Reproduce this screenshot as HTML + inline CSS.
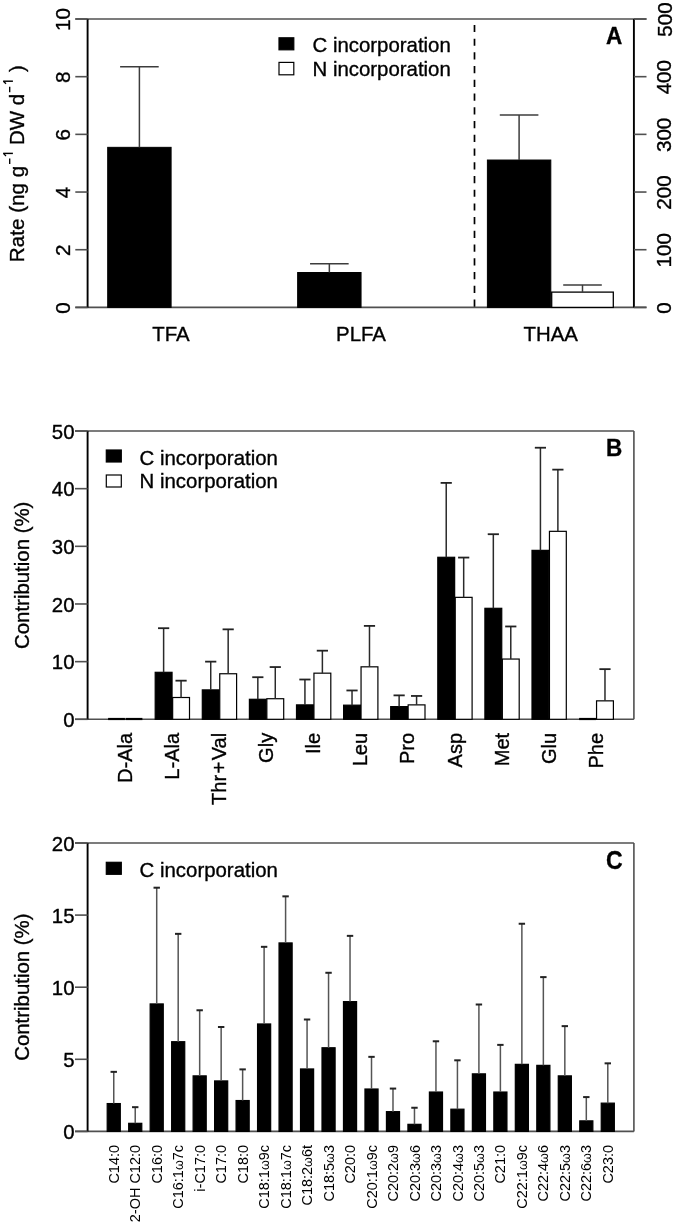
<!DOCTYPE html>
<html><head><meta charset="utf-8"><style>
html,body{margin:0;padding:0;background:#fff;}
svg{display:block;will-change:transform;}
text{font-family:"Liberation Sans", sans-serif;fill:#000;stroke:#000;stroke-width:0.35px;}
</style></head><body>
<svg width="675" height="1224" viewBox="0 0 675 1224">
<rect width="675" height="1224" fill="#fff"/>
<line x1="75.30" y1="19.00" x2="646.50" y2="19.00" stroke="#505050" stroke-width="1.6" />
<line x1="75.30" y1="307.40" x2="646.50" y2="307.40" stroke="#505050" stroke-width="1.6" />
<line x1="87.60" y1="19.00" x2="87.60" y2="307.40" stroke="#000" stroke-width="1.9" />
<line x1="633.90" y1="19.00" x2="633.90" y2="307.40" stroke="#000" stroke-width="1.9" />
<line x1="75.30" y1="307.40" x2="87.60" y2="307.40" stroke="#505050" stroke-width="1.6" />
<text x="70.30" y="307.90" font-size="20.6" text-anchor="middle" font-weight="normal" transform="rotate(-90 70.30 307.90)">0</text>
<line x1="75.30" y1="249.72" x2="87.60" y2="249.72" stroke="#505050" stroke-width="1.6" />
<text x="70.30" y="250.22" font-size="20.6" text-anchor="middle" font-weight="normal" transform="rotate(-90 70.30 250.22)">2</text>
<line x1="75.30" y1="192.04" x2="87.60" y2="192.04" stroke="#505050" stroke-width="1.6" />
<text x="70.30" y="192.54" font-size="20.6" text-anchor="middle" font-weight="normal" transform="rotate(-90 70.30 192.54)">4</text>
<line x1="75.30" y1="134.36" x2="87.60" y2="134.36" stroke="#505050" stroke-width="1.6" />
<text x="70.30" y="134.86" font-size="20.6" text-anchor="middle" font-weight="normal" transform="rotate(-90 70.30 134.86)">6</text>
<line x1="75.30" y1="76.68" x2="87.60" y2="76.68" stroke="#505050" stroke-width="1.6" />
<text x="70.30" y="77.18" font-size="20.6" text-anchor="middle" font-weight="normal" transform="rotate(-90 70.30 77.18)">8</text>
<line x1="75.30" y1="19.00" x2="87.60" y2="19.00" stroke="#505050" stroke-width="1.6" />
<text x="70.30" y="19.50" font-size="20.6" text-anchor="middle" font-weight="normal" transform="rotate(-90 70.30 19.50)">10</text>
<line x1="633.90" y1="307.40" x2="646.50" y2="307.40" stroke="#505050" stroke-width="1.6" />
<text x="671.50" y="307.90" font-size="20.6" text-anchor="middle" font-weight="normal" transform="rotate(-90 671.50 307.90)">0</text>
<line x1="633.90" y1="249.72" x2="646.50" y2="249.72" stroke="#505050" stroke-width="1.6" />
<text x="671.50" y="250.22" font-size="20.6" text-anchor="middle" font-weight="normal" transform="rotate(-90 671.50 250.22)">100</text>
<line x1="633.90" y1="192.04" x2="646.50" y2="192.04" stroke="#505050" stroke-width="1.6" />
<text x="671.50" y="192.54" font-size="20.6" text-anchor="middle" font-weight="normal" transform="rotate(-90 671.50 192.54)">200</text>
<line x1="633.90" y1="134.36" x2="646.50" y2="134.36" stroke="#505050" stroke-width="1.6" />
<text x="671.50" y="134.86" font-size="20.6" text-anchor="middle" font-weight="normal" transform="rotate(-90 671.50 134.86)">300</text>
<line x1="633.90" y1="76.68" x2="646.50" y2="76.68" stroke="#505050" stroke-width="1.6" />
<text x="671.50" y="77.18" font-size="20.6" text-anchor="middle" font-weight="normal" transform="rotate(-90 671.50 77.18)">400</text>
<line x1="633.90" y1="19.00" x2="646.50" y2="19.00" stroke="#505050" stroke-width="1.6" />
<text x="671.50" y="19.50" font-size="20.6" text-anchor="middle" font-weight="normal" transform="rotate(-90 671.50 19.50)">500</text>
<line x1="474.50" y1="24.90" x2="474.50" y2="307.40" stroke="#000" stroke-width="1.7" stroke-dasharray="7.2,6.53"/>
<rect x="107.70" y="147.34" width="63.40" height="160.06" fill="#000" stroke="#000" stroke-width="1.0"/>
<line x1="139.40" y1="147.34" x2="139.40" y2="66.87" stroke="#3c3c3c" stroke-width="1.5" />
<line x1="120.10" y1="66.87" x2="158.70" y2="66.87" stroke="#3c3c3c" stroke-width="1.5" />
<rect x="297.65" y="272.50" width="63.40" height="34.90" fill="#000" stroke="#000" stroke-width="1.0"/>
<line x1="329.35" y1="272.50" x2="329.35" y2="263.85" stroke="#3c3c3c" stroke-width="1.5" />
<line x1="310.05" y1="263.85" x2="348.65" y2="263.85" stroke="#3c3c3c" stroke-width="1.5" />
<rect x="487.40" y="160.03" width="63.40" height="147.37" fill="#000" stroke="#000" stroke-width="1.0"/>
<line x1="519.10" y1="160.03" x2="519.10" y2="115.04" stroke="#3c3c3c" stroke-width="1.5" />
<line x1="499.80" y1="115.04" x2="538.40" y2="115.04" stroke="#3c3c3c" stroke-width="1.5" />
<rect x="551.70" y="292.11" width="61.60" height="15.29" fill="#fff" stroke="#000" stroke-width="1.3"/>
<line x1="582.50" y1="292.11" x2="582.50" y2="284.90" stroke="#3c3c3c" stroke-width="1.5" />
<line x1="563.20" y1="284.90" x2="601.80" y2="284.90" stroke="#3c3c3c" stroke-width="1.5" />
<text x="171.03" y="340.50" font-size="20.4" text-anchor="middle" font-weight="normal">TFA</text>
<text x="360.99" y="340.50" font-size="20.4" text-anchor="middle" font-weight="normal">PLFA</text>
<text x="550.74" y="340.50" font-size="20.4" text-anchor="middle" font-weight="normal">THAA</text>
<rect x="279.00" y="37.80" width="14.80" height="12.00" fill="#000" stroke="#000" stroke-width="1.2"/>
<rect x="279.00" y="62.40" width="14.80" height="12.40" fill="#fff" stroke="#000" stroke-width="1.2"/>
<text x="312.50" y="51.80" font-size="20.4" text-anchor="start" font-weight="normal">C incorporation</text>
<text x="312.50" y="75.80" font-size="20.4" text-anchor="start" font-weight="normal">N incorporation</text>
<text x="0" y="0" font-size="24.5" text-anchor="end" font-weight="bold" transform="translate(622.30 44.40) scale(0.92 1)">A</text>
<text x="23.7" y="262.15" font-size="20.65" transform="rotate(-90 23.7 262.15)">Rate (ng g</text>
<text x="23.7" y="144.90" font-size="20.4" transform="rotate(-90 23.7 144.90)">DW d</text>
<text x="23.7" y="72.10" font-size="20.4" transform="rotate(-90 23.7 72.10)">)</text>
<line x1="9.70" y1="158.60" x2="9.70" y2="164.00" stroke="#000" stroke-width="1.35" />
<line x1="3.20" y1="153.40" x2="12.90" y2="153.40" stroke="#000" stroke-width="1.45" />
<path d="M3.4 153.40 L6.0 156.00" stroke="#000" stroke-width="1.3" fill="none"/>
<line x1="9.70" y1="86.70" x2="9.70" y2="92.20" stroke="#000" stroke-width="1.35" />
<line x1="3.20" y1="81.20" x2="12.90" y2="81.20" stroke="#000" stroke-width="1.45" />
<path d="M3.4 81.20 L6.0 83.80" stroke="#000" stroke-width="1.3" fill="none"/>
<line x1="75.00" y1="431.00" x2="633.90" y2="431.00" stroke="#505050" stroke-width="1.6" />
<line x1="75.00" y1="719.30" x2="633.90" y2="719.30" stroke="#505050" stroke-width="1.6" />
<line x1="87.60" y1="431.00" x2="87.60" y2="719.30" stroke="#000" stroke-width="1.9" />
<line x1="633.90" y1="431.00" x2="633.90" y2="719.30" stroke="#505050" stroke-width="1.6" />
<line x1="75.00" y1="719.30" x2="87.60" y2="719.30" stroke="#505050" stroke-width="1.6" />
<text x="74.50" y="727.00" font-size="20.4" text-anchor="end" font-weight="normal">0</text>
<line x1="75.00" y1="661.64" x2="87.60" y2="661.64" stroke="#505050" stroke-width="1.6" />
<text x="74.50" y="669.34" font-size="20.4" text-anchor="end" font-weight="normal">10</text>
<line x1="75.00" y1="603.98" x2="87.60" y2="603.98" stroke="#505050" stroke-width="1.6" />
<text x="74.50" y="611.68" font-size="20.4" text-anchor="end" font-weight="normal">20</text>
<line x1="75.00" y1="546.32" x2="87.60" y2="546.32" stroke="#505050" stroke-width="1.6" />
<text x="74.50" y="554.02" font-size="20.4" text-anchor="end" font-weight="normal">30</text>
<line x1="75.00" y1="488.66" x2="87.60" y2="488.66" stroke="#505050" stroke-width="1.6" />
<text x="74.50" y="496.36" font-size="20.4" text-anchor="end" font-weight="normal">40</text>
<line x1="75.00" y1="431.00" x2="87.60" y2="431.00" stroke="#505050" stroke-width="1.6" />
<text x="74.50" y="438.70" font-size="20.4" text-anchor="end" font-weight="normal">50</text>
<line x1="108.10" y1="719.00" x2="124.95" y2="719.00" stroke="#000" stroke-width="2.2" />
<line x1="125.55" y1="719.00" x2="142.40" y2="719.00" stroke="#000" stroke-width="2.2" />
<text x="131.85" y="732.80" font-size="20.1" text-anchor="end" font-weight="normal" transform="rotate(-90 131.85 732.80)">D-Ala</text>
<rect x="155.20" y="672.31" width="16.85" height="46.99" fill="#000" stroke="#000" stroke-width="1.2"/>
<line x1="163.62" y1="672.31" x2="163.62" y2="628.20" stroke="#2a2a2a" stroke-width="1.5" />
<line x1="158.03" y1="628.20" x2="169.22" y2="628.20" stroke="#222" stroke-width="1.8" />
<rect x="172.65" y="697.50" width="16.85" height="21.80" fill="#fff" stroke="#000" stroke-width="1.2"/>
<line x1="181.07" y1="697.50" x2="181.07" y2="680.67" stroke="#2a2a2a" stroke-width="1.5" />
<line x1="175.47" y1="680.67" x2="186.67" y2="680.67" stroke="#222" stroke-width="1.8" />
<text x="178.95" y="732.80" font-size="20.1" text-anchor="end" font-weight="normal" transform="rotate(-90 178.95 732.80)">L-Ala</text>
<rect x="202.30" y="689.89" width="16.85" height="29.41" fill="#000" stroke="#000" stroke-width="1.2"/>
<line x1="210.72" y1="689.89" x2="210.72" y2="661.64" stroke="#2a2a2a" stroke-width="1.5" />
<line x1="205.12" y1="661.64" x2="216.32" y2="661.64" stroke="#222" stroke-width="1.8" />
<rect x="219.75" y="673.75" width="16.85" height="45.55" fill="#fff" stroke="#000" stroke-width="1.2"/>
<line x1="228.17" y1="673.75" x2="228.17" y2="629.35" stroke="#2a2a2a" stroke-width="1.5" />
<line x1="222.57" y1="629.35" x2="233.77" y2="629.35" stroke="#222" stroke-width="1.8" />
<text x="226.05" y="732.80" font-size="20.1" text-anchor="end" font-weight="normal" transform="rotate(-90 226.05 732.80)">Thr<tspan dx="1.4">+</tspan><tspan dx="1.4">Val</tspan></text>
<rect x="249.40" y="699.29" width="16.85" height="20.01" fill="#000" stroke="#000" stroke-width="1.2"/>
<line x1="257.83" y1="699.29" x2="257.83" y2="677.21" stroke="#2a2a2a" stroke-width="1.5" />
<line x1="252.23" y1="677.21" x2="263.43" y2="677.21" stroke="#222" stroke-width="1.8" />
<rect x="266.85" y="698.72" width="16.85" height="20.58" fill="#fff" stroke="#000" stroke-width="1.2"/>
<line x1="275.28" y1="698.72" x2="275.28" y2="667.06" stroke="#2a2a2a" stroke-width="1.5" />
<line x1="269.68" y1="667.06" x2="280.88" y2="667.06" stroke="#222" stroke-width="1.8" />
<text x="273.15" y="732.80" font-size="20.1" text-anchor="end" font-weight="normal" transform="rotate(-90 273.15 732.80)">Gly</text>
<rect x="296.50" y="704.88" width="16.85" height="14.41" fill="#000" stroke="#000" stroke-width="1.2"/>
<line x1="304.93" y1="704.88" x2="304.93" y2="679.51" stroke="#2a2a2a" stroke-width="1.5" />
<line x1="299.32" y1="679.51" x2="310.53" y2="679.51" stroke="#222" stroke-width="1.8" />
<rect x="313.95" y="673.17" width="16.85" height="46.13" fill="#fff" stroke="#000" stroke-width="1.2"/>
<line x1="322.38" y1="673.17" x2="322.38" y2="650.68" stroke="#2a2a2a" stroke-width="1.5" />
<line x1="316.77" y1="650.68" x2="327.98" y2="650.68" stroke="#222" stroke-width="1.8" />
<text x="320.25" y="732.80" font-size="20.1" text-anchor="end" font-weight="normal" transform="rotate(-90 320.25 732.80)">Ile</text>
<rect x="343.60" y="705.17" width="16.85" height="14.13" fill="#000" stroke="#000" stroke-width="1.2"/>
<line x1="352.03" y1="705.17" x2="352.03" y2="690.47" stroke="#2a2a2a" stroke-width="1.5" />
<line x1="346.43" y1="690.47" x2="357.63" y2="690.47" stroke="#222" stroke-width="1.8" />
<rect x="361.05" y="666.83" width="16.85" height="52.47" fill="#fff" stroke="#000" stroke-width="1.2"/>
<line x1="369.48" y1="666.83" x2="369.48" y2="625.89" stroke="#2a2a2a" stroke-width="1.5" />
<line x1="363.88" y1="625.89" x2="375.08" y2="625.89" stroke="#222" stroke-width="1.8" />
<text x="367.35" y="732.80" font-size="20.1" text-anchor="end" font-weight="normal" transform="rotate(-90 367.35 732.80)">Leu</text>
<rect x="390.70" y="706.61" width="16.85" height="12.69" fill="#000" stroke="#000" stroke-width="1.2"/>
<line x1="399.13" y1="706.61" x2="399.13" y2="695.37" stroke="#2a2a2a" stroke-width="1.5" />
<line x1="393.53" y1="695.37" x2="404.73" y2="695.37" stroke="#222" stroke-width="1.8" />
<rect x="408.15" y="704.88" width="16.85" height="14.41" fill="#fff" stroke="#000" stroke-width="1.2"/>
<line x1="416.58" y1="704.88" x2="416.58" y2="695.95" stroke="#2a2a2a" stroke-width="1.5" />
<line x1="410.98" y1="695.95" x2="422.18" y2="695.95" stroke="#222" stroke-width="1.8" />
<text x="414.45" y="732.80" font-size="20.1" text-anchor="end" font-weight="normal" transform="rotate(-90 414.45 732.80)">Pro</text>
<rect x="437.80" y="557.28" width="16.85" height="162.02" fill="#000" stroke="#000" stroke-width="1.2"/>
<line x1="446.23" y1="557.28" x2="446.23" y2="482.89" stroke="#2a2a2a" stroke-width="1.5" />
<line x1="440.62" y1="482.89" x2="451.83" y2="482.89" stroke="#222" stroke-width="1.8" />
<rect x="455.25" y="597.35" width="16.85" height="121.95" fill="#fff" stroke="#000" stroke-width="1.2"/>
<line x1="463.68" y1="597.35" x2="463.68" y2="557.56" stroke="#2a2a2a" stroke-width="1.5" />
<line x1="458.07" y1="557.56" x2="469.28" y2="557.56" stroke="#222" stroke-width="1.8" />
<text x="461.55" y="732.80" font-size="20.1" text-anchor="end" font-weight="normal" transform="rotate(-90 461.55 732.80)">Asp</text>
<rect x="484.90" y="608.30" width="16.85" height="111.00" fill="#000" stroke="#000" stroke-width="1.2"/>
<line x1="493.33" y1="608.30" x2="493.33" y2="534.21" stroke="#2a2a2a" stroke-width="1.5" />
<line x1="487.73" y1="534.21" x2="498.93" y2="534.21" stroke="#222" stroke-width="1.8" />
<rect x="502.35" y="659.05" width="16.85" height="60.25" fill="#fff" stroke="#000" stroke-width="1.2"/>
<line x1="510.78" y1="659.05" x2="510.78" y2="626.47" stroke="#2a2a2a" stroke-width="1.5" />
<line x1="505.18" y1="626.47" x2="516.38" y2="626.47" stroke="#222" stroke-width="1.8" />
<text x="508.65" y="732.80" font-size="20.1" text-anchor="end" font-weight="normal" transform="rotate(-90 508.65 732.80)">Met</text>
<rect x="532.00" y="550.36" width="16.85" height="168.94" fill="#000" stroke="#000" stroke-width="1.2"/>
<line x1="540.43" y1="550.36" x2="540.43" y2="447.72" stroke="#2a2a2a" stroke-width="1.5" />
<line x1="534.83" y1="447.72" x2="546.03" y2="447.72" stroke="#222" stroke-width="1.8" />
<rect x="549.45" y="531.33" width="16.85" height="187.97" fill="#fff" stroke="#000" stroke-width="1.2"/>
<line x1="557.88" y1="531.33" x2="557.88" y2="469.63" stroke="#2a2a2a" stroke-width="1.5" />
<line x1="552.28" y1="469.63" x2="563.48" y2="469.63" stroke="#222" stroke-width="1.8" />
<text x="555.75" y="732.80" font-size="20.1" text-anchor="end" font-weight="normal" transform="rotate(-90 555.75 732.80)">Glu</text>
<line x1="579.10" y1="719.00" x2="595.95" y2="719.00" stroke="#000" stroke-width="2.2" />
<rect x="596.55" y="700.85" width="16.85" height="18.45" fill="#fff" stroke="#000" stroke-width="1.2"/>
<line x1="604.98" y1="700.85" x2="604.98" y2="669.14" stroke="#2a2a2a" stroke-width="1.5" />
<line x1="599.38" y1="669.14" x2="610.58" y2="669.14" stroke="#222" stroke-width="1.8" />
<text x="602.85" y="732.80" font-size="20.1" text-anchor="end" font-weight="normal" transform="rotate(-90 602.85 732.80)">Phe</text>
<rect x="106.30" y="450.00" width="15.00" height="12.00" fill="#000" stroke="#000" stroke-width="1.2"/>
<rect x="106.30" y="475.00" width="15.00" height="12.00" fill="#fff" stroke="#000" stroke-width="1.2"/>
<text x="139.60" y="464.50" font-size="20.4" text-anchor="start" font-weight="normal">C incorporation</text>
<text x="139.60" y="488.30" font-size="20.4" text-anchor="start" font-weight="normal">N incorporation</text>
<text x="0" y="0" font-size="24.5" text-anchor="end" font-weight="bold" transform="translate(622.30 456.30) scale(0.92 1)">B</text>
<text x="29.40" y="575.30" font-size="20.4" text-anchor="middle" font-weight="normal" transform="rotate(-90 29.40 575.30)">Contribution (%)</text>
<line x1="75.00" y1="843.00" x2="633.90" y2="843.00" stroke="#505050" stroke-width="1.6" />
<line x1="75.00" y1="1131.40" x2="633.90" y2="1131.40" stroke="#505050" stroke-width="1.6" />
<line x1="87.60" y1="843.00" x2="87.60" y2="1131.40" stroke="#000" stroke-width="1.9" />
<line x1="633.90" y1="843.00" x2="633.90" y2="1131.40" stroke="#505050" stroke-width="1.6" />
<line x1="75.00" y1="1131.40" x2="87.60" y2="1131.40" stroke="#505050" stroke-width="1.6" />
<text x="74.50" y="1139.10" font-size="20.4" text-anchor="end" font-weight="normal">0</text>
<line x1="75.00" y1="1059.30" x2="87.60" y2="1059.30" stroke="#505050" stroke-width="1.6" />
<text x="74.50" y="1067.00" font-size="20.4" text-anchor="end" font-weight="normal">5</text>
<line x1="75.00" y1="987.20" x2="87.60" y2="987.20" stroke="#505050" stroke-width="1.6" />
<text x="74.50" y="994.90" font-size="20.4" text-anchor="end" font-weight="normal">10</text>
<line x1="75.00" y1="915.10" x2="87.60" y2="915.10" stroke="#505050" stroke-width="1.6" />
<text x="74.50" y="922.80" font-size="20.4" text-anchor="end" font-weight="normal">15</text>
<line x1="75.00" y1="843.00" x2="87.60" y2="843.00" stroke="#505050" stroke-width="1.6" />
<text x="74.50" y="850.70" font-size="20.4" text-anchor="end" font-weight="normal">20</text>
<rect x="107.20" y="1103.57" width="13.10" height="27.83" fill="#000" stroke="#000" stroke-width="1.2"/>
<line x1="113.75" y1="1103.57" x2="113.75" y2="1071.85" stroke="#555" stroke-width="1.5" />
<line x1="110.55" y1="1071.85" x2="116.95" y2="1071.85" stroke="#222" stroke-width="2.0" />
<text x="0" y="0" font-size="15.5" text-anchor="end" font-weight="normal" transform="translate(118.85 1145.00) rotate(-90) scale(0.934 1)" style="stroke-width:0">C14:0</text>
<rect x="128.68" y="1123.32" width="13.10" height="8.08" fill="#000" stroke="#000" stroke-width="1.2"/>
<line x1="135.23" y1="1123.32" x2="135.23" y2="1107.17" stroke="#555" stroke-width="1.5" />
<line x1="132.03" y1="1107.17" x2="138.43" y2="1107.17" stroke="#222" stroke-width="2.0" />
<text x="0" y="0" font-size="15.5" text-anchor="end" font-weight="normal" transform="translate(140.33 1145.00) rotate(-90) scale(0.934 1)" style="stroke-width:0">2-OH C12:0</text>
<rect x="150.16" y="1003.93" width="13.10" height="127.47" fill="#000" stroke="#000" stroke-width="1.2"/>
<line x1="156.71" y1="1003.93" x2="156.71" y2="887.70" stroke="#555" stroke-width="1.5" />
<line x1="153.51" y1="887.70" x2="159.91" y2="887.70" stroke="#222" stroke-width="2.0" />
<text x="0" y="0" font-size="15.5" text-anchor="end" font-weight="normal" transform="translate(161.81 1145.00) rotate(-90) scale(0.934 1)" style="stroke-width:0">C16:0</text>
<rect x="171.64" y="1041.71" width="13.10" height="89.69" fill="#000" stroke="#000" stroke-width="1.2"/>
<line x1="178.19" y1="1041.71" x2="178.19" y2="933.85" stroke="#555" stroke-width="1.5" />
<line x1="174.99" y1="933.85" x2="181.39" y2="933.85" stroke="#222" stroke-width="2.0" />
<text x="0" y="0" font-size="15.5" text-anchor="end" font-weight="normal" transform="translate(183.29 1145.00) rotate(-90) scale(0.934 1)" style="stroke-width:0">C16:1<tspan font-size="13.5">ω</tspan>7c</text>
<rect x="193.12" y="1075.88" width="13.10" height="55.52" fill="#000" stroke="#000" stroke-width="1.2"/>
<line x1="199.67" y1="1075.88" x2="199.67" y2="1010.27" stroke="#555" stroke-width="1.5" />
<line x1="196.47" y1="1010.27" x2="202.87" y2="1010.27" stroke="#222" stroke-width="2.0" />
<text x="0" y="0" font-size="15.5" text-anchor="end" font-weight="normal" transform="translate(204.77 1145.00) rotate(-90) scale(0.934 1)" style="stroke-width:0">i-C17:0</text>
<rect x="214.60" y="1080.93" width="13.10" height="50.47" fill="#000" stroke="#000" stroke-width="1.2"/>
<line x1="221.15" y1="1080.93" x2="221.15" y2="1027.00" stroke="#555" stroke-width="1.5" />
<line x1="217.95" y1="1027.00" x2="224.35" y2="1027.00" stroke="#222" stroke-width="2.0" />
<text x="0" y="0" font-size="15.5" text-anchor="end" font-weight="normal" transform="translate(226.25 1145.00) rotate(-90) scale(0.934 1)" style="stroke-width:0">C17:0</text>
<rect x="236.08" y="1100.54" width="13.10" height="30.86" fill="#000" stroke="#000" stroke-width="1.2"/>
<line x1="242.63" y1="1100.54" x2="242.63" y2="1069.39" stroke="#555" stroke-width="1.5" />
<line x1="239.43" y1="1069.39" x2="245.83" y2="1069.39" stroke="#222" stroke-width="2.0" />
<text x="0" y="0" font-size="15.5" text-anchor="end" font-weight="normal" transform="translate(247.73 1145.00) rotate(-90) scale(0.934 1)" style="stroke-width:0">C18:0</text>
<rect x="257.56" y="1023.97" width="13.10" height="107.43" fill="#000" stroke="#000" stroke-width="1.2"/>
<line x1="264.11" y1="1023.97" x2="264.11" y2="946.82" stroke="#555" stroke-width="1.5" />
<line x1="260.91" y1="946.82" x2="267.31" y2="946.82" stroke="#222" stroke-width="2.0" />
<text x="0" y="0" font-size="15.5" text-anchor="end" font-weight="normal" transform="translate(269.21 1145.00) rotate(-90) scale(0.934 1)" style="stroke-width:0">C18:1<tspan font-size="13.5">ω</tspan>9c</text>
<rect x="279.04" y="942.93" width="13.10" height="188.47" fill="#000" stroke="#000" stroke-width="1.2"/>
<line x1="285.59" y1="942.93" x2="285.59" y2="896.35" stroke="#555" stroke-width="1.5" />
<line x1="282.39" y1="896.35" x2="288.79" y2="896.35" stroke="#222" stroke-width="2.0" />
<text x="0" y="0" font-size="15.5" text-anchor="end" font-weight="normal" transform="translate(290.69 1145.00) rotate(-90) scale(0.934 1)" style="stroke-width:0">C18:1<tspan font-size="13.5">ω</tspan>7c</text>
<rect x="300.52" y="1068.96" width="13.10" height="62.44" fill="#000" stroke="#000" stroke-width="1.2"/>
<line x1="307.07" y1="1068.96" x2="307.07" y2="1019.50" stroke="#555" stroke-width="1.5" />
<line x1="303.87" y1="1019.50" x2="310.27" y2="1019.50" stroke="#222" stroke-width="2.0" />
<text x="0" y="0" font-size="15.5" text-anchor="end" font-weight="normal" transform="translate(312.17 1145.00) rotate(-90) scale(0.934 1)" style="stroke-width:0">C18:2<tspan font-size="13.5">ω</tspan>6t</text>
<rect x="322.00" y="1047.76" width="13.10" height="83.64" fill="#000" stroke="#000" stroke-width="1.2"/>
<line x1="328.55" y1="1047.76" x2="328.55" y2="972.78" stroke="#555" stroke-width="1.5" />
<line x1="325.35" y1="972.78" x2="331.75" y2="972.78" stroke="#222" stroke-width="2.0" />
<text x="0" y="0" font-size="15.5" text-anchor="end" font-weight="normal" transform="translate(333.65 1145.00) rotate(-90) scale(0.934 1)" style="stroke-width:0">C18:5<tspan font-size="13.5">ω</tspan>3</text>
<rect x="343.48" y="1001.62" width="13.10" height="129.78" fill="#000" stroke="#000" stroke-width="1.2"/>
<line x1="350.03" y1="1001.62" x2="350.03" y2="935.86" stroke="#555" stroke-width="1.5" />
<line x1="346.83" y1="935.86" x2="353.23" y2="935.86" stroke="#222" stroke-width="2.0" />
<text x="0" y="0" font-size="15.5" text-anchor="end" font-weight="normal" transform="translate(355.13 1145.00) rotate(-90) scale(0.934 1)" style="stroke-width:0">C20:0</text>
<rect x="364.96" y="1089.01" width="13.10" height="42.39" fill="#000" stroke="#000" stroke-width="1.2"/>
<line x1="371.51" y1="1089.01" x2="371.51" y2="1056.85" stroke="#555" stroke-width="1.5" />
<line x1="368.31" y1="1056.85" x2="374.71" y2="1056.85" stroke="#222" stroke-width="2.0" />
<text x="0" y="0" font-size="15.5" text-anchor="end" font-weight="normal" transform="translate(376.61 1145.00) rotate(-90) scale(0.934 1)" style="stroke-width:0">C20:1<tspan font-size="13.5">ω</tspan>9c</text>
<rect x="386.44" y="1111.64" width="13.10" height="19.76" fill="#000" stroke="#000" stroke-width="1.2"/>
<line x1="392.99" y1="1111.64" x2="392.99" y2="1088.57" stroke="#555" stroke-width="1.5" />
<line x1="389.79" y1="1088.57" x2="396.19" y2="1088.57" stroke="#222" stroke-width="2.0" />
<text x="0" y="0" font-size="15.5" text-anchor="end" font-weight="normal" transform="translate(398.09 1145.00) rotate(-90) scale(0.934 1)" style="stroke-width:0">C20:2<tspan font-size="13.5">ω</tspan>9</text>
<rect x="407.92" y="1124.33" width="13.10" height="7.07" fill="#000" stroke="#000" stroke-width="1.2"/>
<line x1="414.47" y1="1124.33" x2="414.47" y2="1107.75" stroke="#555" stroke-width="1.5" />
<line x1="411.27" y1="1107.75" x2="417.67" y2="1107.75" stroke="#222" stroke-width="2.0" />
<text x="0" y="0" font-size="15.5" text-anchor="end" font-weight="normal" transform="translate(419.57 1145.00) rotate(-90) scale(0.934 1)" style="stroke-width:0">C20:3<tspan font-size="13.5">ω</tspan>6</text>
<rect x="429.40" y="1092.03" width="13.10" height="39.37" fill="#000" stroke="#000" stroke-width="1.2"/>
<line x1="435.95" y1="1092.03" x2="435.95" y2="1041.28" stroke="#555" stroke-width="1.5" />
<line x1="432.75" y1="1041.28" x2="439.15" y2="1041.28" stroke="#222" stroke-width="2.0" />
<text x="0" y="0" font-size="15.5" text-anchor="end" font-weight="normal" transform="translate(441.05 1145.00) rotate(-90) scale(0.934 1)" style="stroke-width:0">C20:3<tspan font-size="13.5">ω</tspan>3</text>
<rect x="450.88" y="1109.19" width="13.10" height="22.21" fill="#000" stroke="#000" stroke-width="1.2"/>
<line x1="457.43" y1="1109.19" x2="457.43" y2="1060.31" stroke="#555" stroke-width="1.5" />
<line x1="454.23" y1="1060.31" x2="460.63" y2="1060.31" stroke="#222" stroke-width="2.0" />
<text x="0" y="0" font-size="15.5" text-anchor="end" font-weight="normal" transform="translate(462.53 1145.00) rotate(-90) scale(0.934 1)" style="stroke-width:0">C20:4<tspan font-size="13.5">ω</tspan>3</text>
<rect x="472.36" y="1073.86" width="13.10" height="57.54" fill="#000" stroke="#000" stroke-width="1.2"/>
<line x1="478.91" y1="1073.86" x2="478.91" y2="1004.50" stroke="#555" stroke-width="1.5" />
<line x1="475.71" y1="1004.50" x2="482.11" y2="1004.50" stroke="#222" stroke-width="2.0" />
<text x="0" y="0" font-size="15.5" text-anchor="end" font-weight="normal" transform="translate(484.01 1145.00) rotate(-90) scale(0.934 1)" style="stroke-width:0">C20:5<tspan font-size="13.5">ω</tspan>3</text>
<rect x="493.84" y="1092.03" width="13.10" height="39.37" fill="#000" stroke="#000" stroke-width="1.2"/>
<line x1="500.39" y1="1092.03" x2="500.39" y2="1044.88" stroke="#555" stroke-width="1.5" />
<line x1="497.19" y1="1044.88" x2="503.59" y2="1044.88" stroke="#222" stroke-width="2.0" />
<text x="0" y="0" font-size="15.5" text-anchor="end" font-weight="normal" transform="translate(505.49 1145.00) rotate(-90) scale(0.934 1)" style="stroke-width:0">C21:0</text>
<rect x="515.32" y="1064.35" width="13.10" height="67.05" fill="#000" stroke="#000" stroke-width="1.2"/>
<line x1="521.87" y1="1064.35" x2="521.87" y2="923.75" stroke="#555" stroke-width="1.5" />
<line x1="518.67" y1="923.75" x2="525.07" y2="923.75" stroke="#222" stroke-width="2.0" />
<text x="0" y="0" font-size="15.5" text-anchor="end" font-weight="normal" transform="translate(526.97 1145.00) rotate(-90) scale(0.934 1)" style="stroke-width:0">C22:1<tspan font-size="13.5">ω</tspan>9c</text>
<rect x="536.80" y="1065.36" width="13.10" height="66.04" fill="#000" stroke="#000" stroke-width="1.2"/>
<line x1="543.35" y1="1065.36" x2="543.35" y2="977.11" stroke="#555" stroke-width="1.5" />
<line x1="540.15" y1="977.11" x2="546.55" y2="977.11" stroke="#222" stroke-width="2.0" />
<text x="0" y="0" font-size="15.5" text-anchor="end" font-weight="normal" transform="translate(548.45 1145.00) rotate(-90) scale(0.934 1)" style="stroke-width:0">C22:4<tspan font-size="13.5">ω</tspan>6</text>
<rect x="558.28" y="1075.88" width="13.10" height="55.52" fill="#000" stroke="#000" stroke-width="1.2"/>
<line x1="564.83" y1="1075.88" x2="564.83" y2="1026.13" stroke="#555" stroke-width="1.5" />
<line x1="561.63" y1="1026.13" x2="568.03" y2="1026.13" stroke="#222" stroke-width="2.0" />
<text x="0" y="0" font-size="15.5" text-anchor="end" font-weight="normal" transform="translate(569.93 1145.00) rotate(-90) scale(0.934 1)" style="stroke-width:0">C22:5<tspan font-size="13.5">ω</tspan>3</text>
<rect x="579.76" y="1120.87" width="13.10" height="10.53" fill="#000" stroke="#000" stroke-width="1.2"/>
<line x1="586.31" y1="1120.87" x2="586.31" y2="1097.08" stroke="#555" stroke-width="1.5" />
<line x1="583.11" y1="1097.08" x2="589.51" y2="1097.08" stroke="#222" stroke-width="2.0" />
<text x="0" y="0" font-size="15.5" text-anchor="end" font-weight="normal" transform="translate(591.41 1145.00) rotate(-90) scale(0.934 1)" style="stroke-width:0">C22:6<tspan font-size="13.5">ω</tspan>3</text>
<rect x="601.24" y="1103.14" width="13.10" height="28.26" fill="#000" stroke="#000" stroke-width="1.2"/>
<line x1="607.79" y1="1103.14" x2="607.79" y2="1063.34" stroke="#555" stroke-width="1.5" />
<line x1="604.59" y1="1063.34" x2="610.99" y2="1063.34" stroke="#222" stroke-width="2.0" />
<text x="0" y="0" font-size="15.5" text-anchor="end" font-weight="normal" transform="translate(612.89 1145.00) rotate(-90) scale(0.934 1)" style="stroke-width:0">C23:0</text>
<rect x="106.30" y="862.30" width="15.00" height="12.00" fill="#000" stroke="#000" stroke-width="1.2"/>
<text x="139.60" y="876.80" font-size="20.4" text-anchor="start" font-weight="normal">C incorporation</text>
<text x="0" y="0" font-size="25.0" text-anchor="end" font-weight="bold" transform="translate(622.50 869.00) scale(0.92 1)">C</text>
<text x="29.40" y="987.20" font-size="20.4" text-anchor="middle" font-weight="normal" transform="rotate(-90 29.40 987.20)">Contribution (%)</text>
</svg>
</body></html>
